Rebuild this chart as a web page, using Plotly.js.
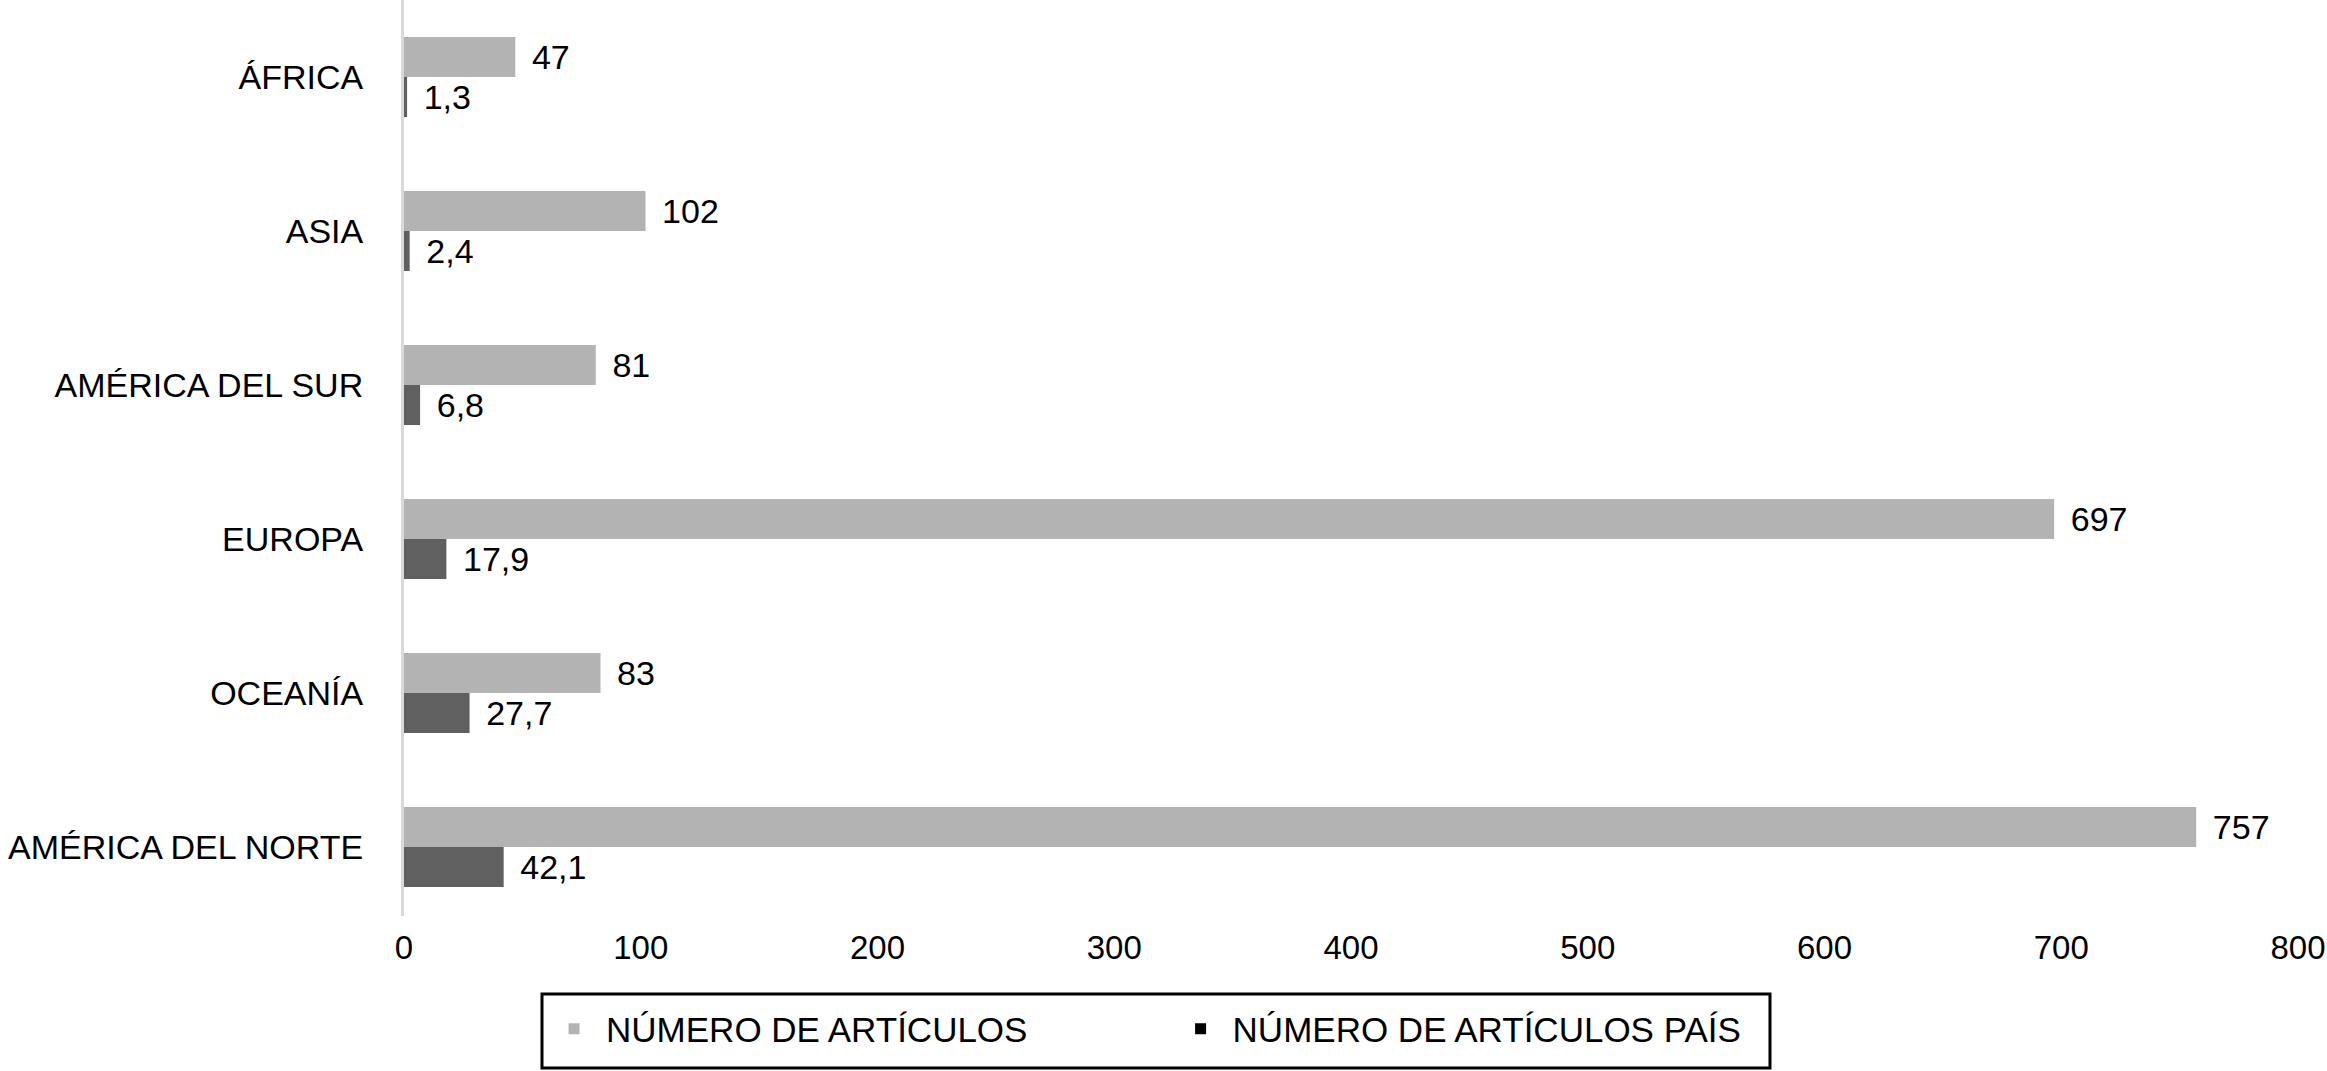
<!DOCTYPE html>
<html>
<head>
<meta charset="utf-8">
<script src="https://cdn.plot.ly/plotly-3.0.1.min.js"></script>
<style>html,body{margin:0;padding:0;background:#fff;}#chart{width:2327px;height:1071px;}</style>
</head>
<body>
<div id="chart"></div>
<script>
const categories = ["ÁFRICA", "ASIA", "AMÉRICA DEL SUR", "EUROPA", "OCEANÍA", "AMÉRICA DEL NORTE"];
const numeroArticulos = [47, 102, 81, 697, 83, 757];
const numeroArticulosPais = [1.3, 2.4, 6.8, 17.9, 27.7, 42.1];
const seriesNames = ["NÚMERO DE ARTÍCULOS", "NÚMERO DE ARTÍCULOS PAÍS"];
const xTicks = [0, 100, 200, 300, 400, 500, 600, 700, 800];

const FONT = "Liberation Sans, Arial, Helvetica, sans-serif";
const barText = {family: FONT, size: 34, color: "#000"};
const NB = "\u00a0";

const traces = [
  {
    type: "bar", orientation: "h", name: seriesNames[0],
    y: categories, x: numeroArticulos,
    marker: {color: "#b3b3b3"},
    texttemplate: "\u2009\u2009%{x}", textposition: "outside",
    textfont: barText, cliponaxis: false, showlegend: false, hoverinfo: "x+y"
  },
  {
    type: "bar", orientation: "h", name: seriesNames[1],
    y: categories, x: numeroArticulosPais,
    marker: {color: "#606060"},
    texttemplate: "\u2009\u2009%{x}", textposition: "outside",
    textfont: barText, cliponaxis: false, showlegend: false, hoverinfo: "x+y"
  },
  {
    type: "scatter", mode: "markers", name: seriesNames[0] + NB.repeat(14),
    x: [null], y: [null], marker: {symbol: "square", size: 11, color: "#b3b3b3"}
  },
  {
    type: "scatter", mode: "markers", name: seriesNames[1],
    x: [null], y: [null], marker: {symbol: "square", size: 11, color: "#000000"}
  }
];

const layout = {
  width: 2327, height: 1071,
  margin: {l: 404, r: 29, t: 0, b: 155, pad: 0},
  paper_bgcolor: "#fff", plot_bgcolor: "#fff",
  separators: ",.",
  font: {family: FONT, size: 34, color: "#000"},
  barmode: "group", bargap: 0.48, bargroupgap: 0,
  xaxis: {
    range: [0, 800], tickvals: xTicks, ticktext: xTicks.map(String),
    showgrid: false, zeroline: false, showline: false,
    ticks: "outside", ticklen: 2, tickcolor: "rgba(0,0,0,0)",
    tickfont: {family: FONT, size: 33, color: "#000"}, fixedrange: true
  },
  yaxis: {
    type: "category", range: [5.448, -0.5],
    showgrid: false, zeroline: false,
    showline: true, linecolor: "#d9d9d9", linewidth: 3,
    ticks: "outside", ticklen: 31, tickcolor: "rgba(0,0,0,0)",
    tickfont: {family: FONT, size: 34, color: "#000"}, fixedrange: true
  },
  showlegend: true,
  legend: {
    orientation: "h", x: 0.0729, xanchor: "left", y: -0.1234, yanchor: "middle",
    borderwidth: 0, bgcolor: "rgba(0,0,0,0)",
    font: {family: FONT, size: 35, color: "#000"},
    itemwidth: 54, traceorder: "normal"
  },
  shapes: [{
    type: "rect", xref: "paper", yref: "paper",
    x0: 0.07286, x1: 0.72122, y0: -0.08515, y1: -0.16594,
    line: {color: "#000", width: 3}, fillcolor: "rgba(0,0,0,0)", layer: "above"
  }]
};

Plotly.newPlot("chart", traces, layout, {displayModeBar: false, staticPlot: true});
</script>
</body>
</html>
